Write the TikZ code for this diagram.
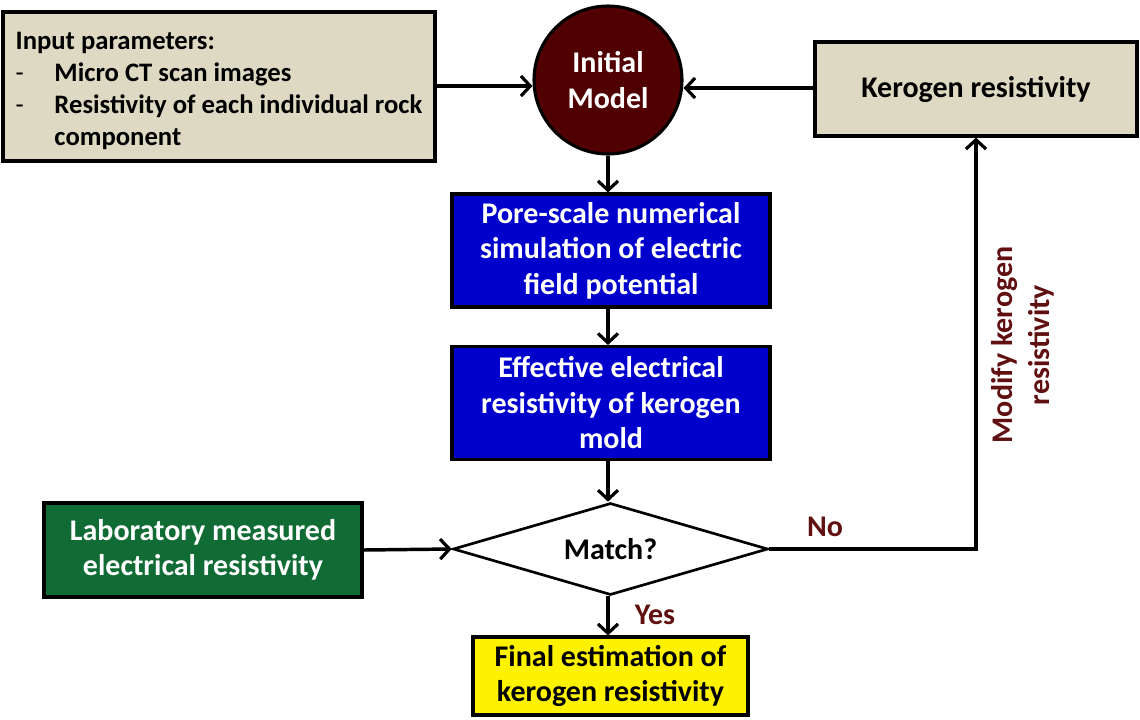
\documentclass[tikz,border=0pt]{standalone}
\usepackage{fontspec}
\setmainfont{Carlito}
\usetikzlibrary{shapes.geometric,arrows.meta}
\definecolor{tanbg}{RGB}{221,217,195}
\definecolor{maroonfill}{RGB}{80,0,0}
\definecolor{bluefill}{RGB}{0,0,204}
\definecolor{greenfill}{RGB}{16,108,52}
\definecolor{lbl}{RGB}{96,16,16}
\tikzset{
  box/.style={draw=black,line width=2.3pt,rectangle,inner sep=0pt,align=center,font=\bfseries\fontsize{22.5}{26.6}\selectfont},
  conn/.style={line width=2.6pt,-{Straight Barb[length=7pt,width=15pt,line width=2.4pt]}},
  lab/.style={text=lbl,font=\bfseries\fontsize{22.5}{27.75}\selectfont}
}
\begin{document}
\begin{tikzpicture}[x=0.75pt,y=-0.75pt]
\useasboundingbox (0,0) rectangle (1140,719);
\node[box,fill=tanbg,minimum width=324pt,minimum height=111.75pt,font=\bfseries\fontsize{20}{24}\selectfont] (inp) at (219,86.5)
 {\raisebox{-3.75pt}[\height][\depth]{\begin{tabular}{@{}l@{\hspace{23pt}}l@{}}
  \multicolumn{2}{@{}l@{}}{Input parameters:}\\
  {\mdseries -} & Micro CT scan images\\
  {\mdseries -} & Resistivity of each individual rock\\
    & component
 \end{tabular}}};
\node[box,circle,fill=maroonfill,text=white,minimum size=111pt] (init) at (608,80) {Initial\\Model};
\node[box,fill=tanbg,minimum width=241.5pt,minimum height=70.5pt] (ker) at (976,89) {Kerogen resistivity};
\node[box,fill=bluefill,text=white,minimum width=238.5pt,minimum height=84.75pt] (sim) at (611,250.5) {Pore-scale numerical\\simulation of electric\\field potential};
\node[box,fill=bluefill,text=white,minimum width=238.5pt,minimum height=84.75pt] (eff) at (611,403) {Effective electrical\\resistivity of kerogen\\mold};
\node[box,diamond,fill=white,line width=2pt,minimum width=236.25pt,minimum height=69pt,shape aspect=3.4] (match) at (610.5,549) {Match?};
\node[box,fill=greenfill,text=white,minimum width=238.5pt,minimum height=70.5pt] (lab) at (203,550) {Laboratory measured\\electrical resistivity};
\node[box,fill=yellow,minimum width=206.25pt,minimum height=58.5pt] (fin) at (610.5,676) {Final estimation of\\kerogen resistivity};
\coordinate (corner) at (976,549);
\draw[conn] (inp.east |- 0,86) -- (init.west |- 0,86);
\draw[conn] (ker.west |- 0,88) -- (init.east |- 0,88);
\draw[conn] (init.south) -- (init.south |- sim.north);
\draw[conn] (init.south |- sim.south) -- (init.south |- eff.north);
\draw[conn] (init.south |- eff.south) -- (init.south |- match.north);
\draw[conn] (init.south |- match.south) -- (init.south |- fin.north);
\draw[conn] (lab.east) -- (match.west);
\draw[conn] (match.east) -- (corner) -- (ker.south);
\node[lab] (no) at (825,527) {No};
\node[lab] (yes) at (655,615) {Yes};
\node[lab,rotate=90,align=center] (mod) at (1023,345) {Modify kerogen\\resistivity};
\end{tikzpicture}
\end{document}
